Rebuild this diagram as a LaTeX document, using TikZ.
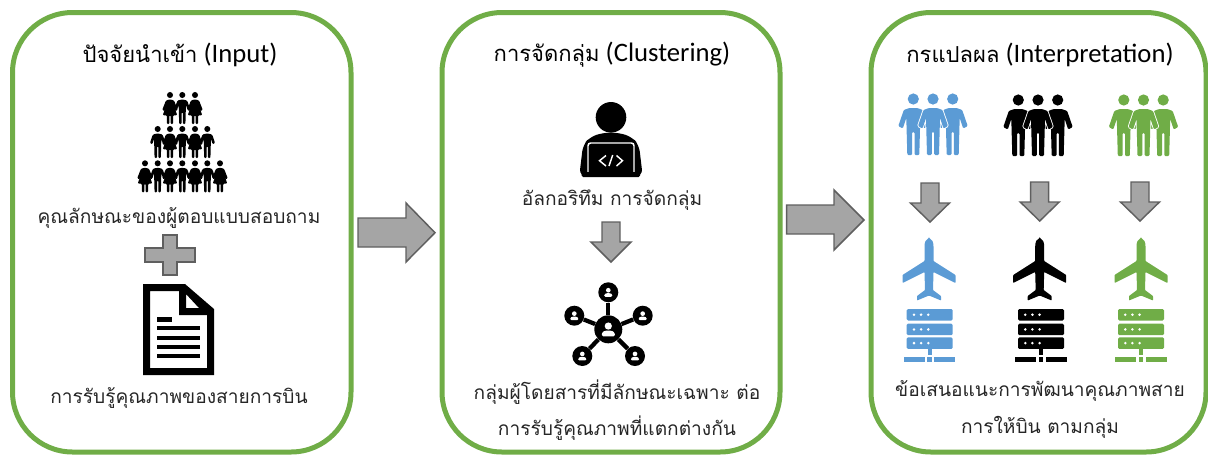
\documentclass[tikz,border=0pt]{standalone}
\usepackage{fontspec}
\setmainfont{Carlito}
\newfontfamily\thaifont[Script=Thai,Scale=0.825]{Loma}
\newcommand{\thaitxt}[1]{{\thaifont #1}}
\definecolor{panelgreen}{HTML}{70AD47}
\definecolor{iconblue}{HTML}{5B9BD5}
\definecolor{arrowfill}{HTML}{A5A5A5}
\definecolor{arrowline}{HTML}{5F5F5F}
\newcommand{\manpath}{(-4,9) -- (4,9) -- (9.5,11) -- (15,27) -- (10.5,29.5) -- (7,19) -- (6,56) -- (1.2,56) -- (1.2,33) -- (-1.2,33) -- (-1.2,56) -- (-6,56) -- (-7,19) -- (-10.5,29.5) -- (-15,27) -- (-9.5,11) -- cycle}
\tikzset{
  panel/.style={draw=panelgreen, line width=3.75pt, rounded corners=45pt},
  blockarrow/.style={draw=arrowline, fill=arrowfill, line width=1.1pt, line join=miter},
  titletext/.style={font=\fontsize{20}{24}\selectfont, text=black},
  bodytext/.style={font=\fontsize{17.4}{21}\selectfont, text=black!85},
  usernode/.style={circle, fill=black, inner sep=0pt, minimum size=#1},
  pics/man/.style={code={
    \fill (0,0) circle (5.8);
    \fill [rounded corners=0.8pt] \manpath;
  }},
  pics/woman/.style={code={
    \fill (0,0) circle (5.8);
    \fill [rounded corners=0.8pt] (-4,9) -- (4,9) -- (8,11) -- (15,29) -- (11,31) -- (8,22) -- (14,39) -- (6,39) -- (6,56) -- (1.2,56) -- (1.2,39) -- (-1.2,39) -- (-1.2,56) -- (-6,56) -- (-6,39) -- (-14,39) -- (-8,22) -- (-11,31) -- (-15,29) -- (-8,11) -- cycle;
  }},
  pics/trio/.style={code={
    \fill (-19.7,0) circle (5.6);
    \fill (19.7,0) circle (5.6);
    \fill (0,0) circle (5.6);
    \fill [rounded corners=0.8pt, xshift=-19.7*0.75pt] \manpath;
    \fill [rounded corners=0.8pt, xshift=19.7*0.75pt] \manpath;
    \draw [white, line width=1.3pt, rounded corners=0.8pt] \manpath;
    \fill [rounded corners=0.8pt] \manpath;
  }},
  pics/plane/.style={code={
    \fill [rounded corners=0.5pt] (0,0) .. controls (3,1) and (4.5,4) .. (4.5,9) -- (4.5,23) -- (26.5,37) -- (26.5,45) -- (4.5,34) -- (4,52) -- (12,58) -- (12,62.5) -- (0,57.5) -- (-12,62.5) -- (-12,58) -- (-4,52) -- (-4.5,34) -- (-26.5,45) -- (-26.5,37) -- (-4.5,23) -- (-4.5,9) .. controls (-4.5,4) and (-3,1) .. (0,0) -- cycle;
  }},
  pics/server/.style={code={
    \foreach \y in {0,14.7,28.4} {
      \fill [rounded corners=1pt] (-23,\y) rectangle (23,\y+11.5);
      \foreach \x in {-15.7,-8.6,-1.4} \fill [white] (\x,\y+5.7) circle (1.4);
    }
    \fill (-2,39) rectangle (2,46);
    \fill (-25.7,48) rectangle (-4.7,53);
    \fill (-2.3,48) rectangle (2.3,53);
    \fill (4.7,48) rectangle (25.7,53);
  }},
  pics/smalluser/.style={code={
    \fill [white] (0,-2.6) circle (2.9);
    \fill [white, rounded corners=1pt] (-5.2,5.6) -- (-5.2,2.6) -- (-2.4,1) -- (2.4,1) -- (5.2,2.6) -- (5.2,5.6) -- cycle;
  }},
}
\begin{document}
\begin{tikzpicture}[x=0.75pt, y=-0.75pt]
\useasboundingbox (0,0) rectangle (1208,455);

\draw [panel] (12.5,12.5) rectangle (351,452);
\draw [panel] (442,12.5) rectangle (780,452);
\draw [panel] (871,12.5) rectangle (1206,452);

\node [titletext] (inputtitle) at (180,54.5) {\thaitxt{ปัจจัยนำเข้า} (Input)};
\node [titletext] (clustertitle) at (612,54.5) {\thaitxt{การจัดกลุ่ม} (Clustering)};
\node [titletext] (interptitle) at (1040,54.5) {\thaitxt{กรแปลผล} (Interpretation)};

% crowd
\foreach \x/\kind in {170/woman, 182.3/man, 195/woman} \pic [scale=0.52] at (\x,95) {\kind};
\foreach \x/\kind in {157.7/man, 170/woman, 182.3/man, 195/woman, 207.3/man} \pic [scale=0.52] at (\x,129) {\kind};
\foreach \x/\kind in {145/woman, 157.7/man, 170/woman, 182.3/man, 195/woman, 207.3/man, 220/woman} \pic [scale=0.52] at (\x,163.3) {\kind};

\node [bodytext] (trait) at (179,218) {\thaitxt{คุณลักษณะของผู้ตอบแบบสอบถาม}};

\fill [blockarrow] (163,235) -- (177,235) -- (177,248) -- (195,248) -- (195,262) -- (177,262) -- (177,275) -- (163,275) -- (163,262) -- (145,262) -- (145,248) -- (163,248) -- cycle;

% document
\fill [even odd rule] (143,284) -- (185,284) -- (214,309) -- (214,375) -- (143,375) -- cycle (150,291) -- (179,291) -- (179,315) -- (207,315) -- (207,368) -- (150,368) -- cycle (186,294) -- (199,308) -- (186,308) -- cycle;
\fill (157,317) rectangle (172,321.5);
\foreach \y in {328,338,347,356} \fill (157,\y-2.2) rectangle (200,\y+2.2);

\node [bodytext] (perceive) at (179,398) {\thaitxt{การรับรู้คุณภาพของสายการบิน}};

\draw [blockarrow] (358,218) -- (406,218) -- (406,203) -- (435,232.7) -- (406,262) -- (406,247) -- (358,247) -- cycle;
\draw [blockarrow] (786.7,205) -- (834,205) -- (834,190) -- (864,220) -- (834,250) -- (834,234) -- (786.7,234) -- cycle;

% coder
\fill (611,117.3) circle (15.3);
\fill [rounded corners=5pt] (579.3,176) -- (583,145) -- (590,137) -- (603,132.7) -- (619,132.7) -- (632,137) -- (639,145) -- (642.7,176) -- cycle;
\draw [white, line width=1.1pt, rounded corners=2pt] (588,172) -- (588,143) -- (634,143) -- (634,172);
\fill [rounded corners=1pt] (581.7,172) rectangle (640,177);
\draw [white, line width=1.1pt] (606,155.5) -- (599.5,160.7) -- (606,166);
\draw [white, line width=1.1pt] (612.7,155) -- (609,166);
\draw [white, line width=1.1pt] (616.5,155.5) -- (622.5,160.7) -- (616.5,166);

\node [bodytext] (algo) at (612,200) {\thaitxt{อัลกอริทึม การจัดกลุ่ม}};

\draw [blockarrow] (602,222) -- (620,222) -- (620,242) -- (631,242) -- (611,262) -- (591,242) -- (602,242) -- cycle;

% network
\node [usernode=28*0.75pt] (hub) at (608.3,329.3) {};
\foreach \name/\x/\y in {top/608.3/292.3, left/574.3/315.7, right/642.7/315.7, botleft/582.3/356, botright/635/356} {
  \node [usernode=20*0.75pt] (\name) at (\x,\y) {};
  \draw [line width=3.2pt] (hub) -- (\name);
  \pic [scale=0.8] at (\name) {smalluser};
}
\pic [scale=1.25] at (hub) {smalluser};

\node [bodytext] (groupa) at (617,392) {\thaitxt{กลุ่มผู้โดยสารที่มีลักษณะเฉพาะ ต่อ}};
\node [bodytext] (groupb) at (617,428) {\thaitxt{การรับรู้คุณภาพที่แตกต่างกัน}};

% result columns
\pic [color=iconblue] at (933,99) {trio};
\pic [color=black] at (1038,100) {trio};
\pic [color=panelgreen] at (1143.5,100) {trio};

\foreach \x/\y in {930/183, 1039.7/182, 1140/182}
  \draw [blockarrow] (\x-9,\y) -- (\x+9,\y) -- (\x+9,\y+20) -- (\x+19.5,\y+20) -- (\x,\y+39) -- (\x-19.5,\y+20) -- (\x-9,\y+20) -- cycle;

\pic [color=iconblue] at (929,238) {plane};
\pic [color=black] at (1039.7,238) {plane};
\pic [color=panelgreen] at (1141,238) {plane};

\pic [color=iconblue] at (929.7,309) {server};
\pic [color=black] at (1041,309) {server};
\pic [color=panelgreen] at (1141,309) {server};

\node [bodytext] (advicea) at (1040,391) {\thaitxt{ข้อเสนอแนะการพัฒนาคุณภาพสาย}};
\node [bodytext] (adviceb) at (1040,427) {\thaitxt{การให้บิน ตามกลุ่ม}};

\end{tikzpicture}
\end{document}
